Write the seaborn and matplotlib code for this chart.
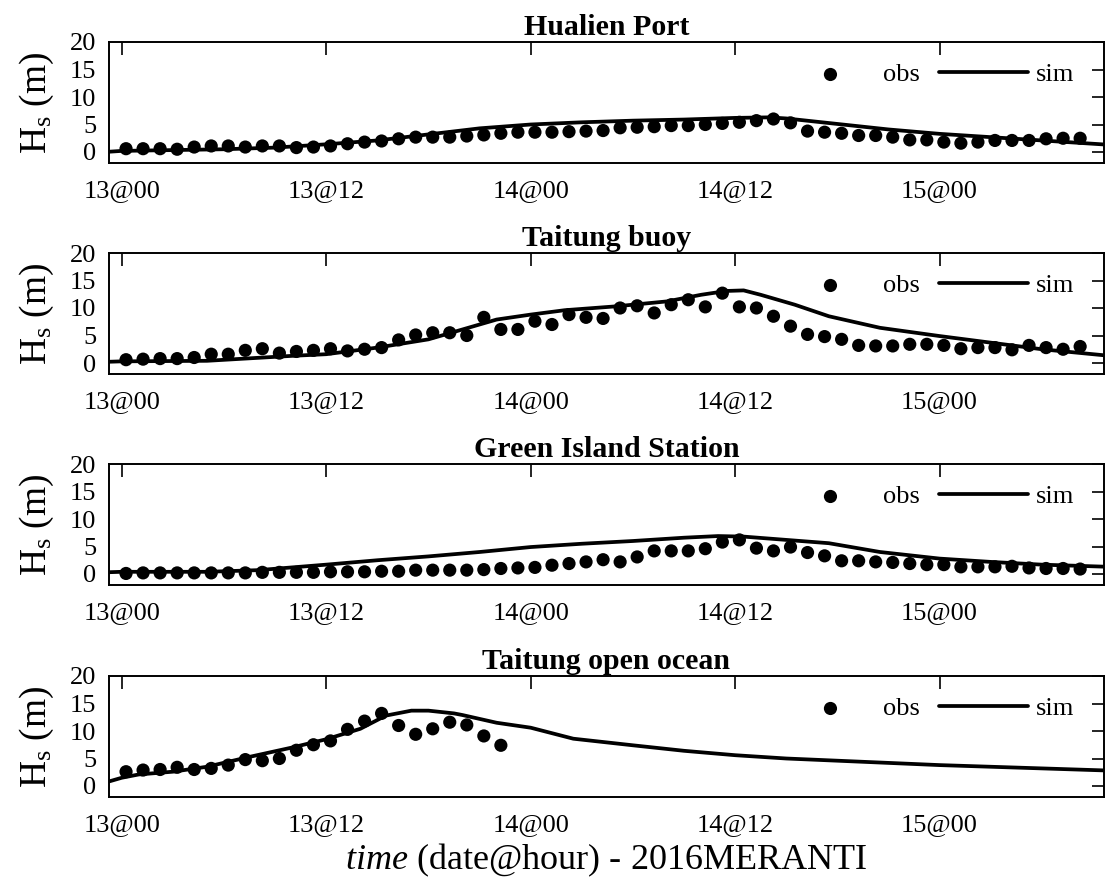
import numpy as np
import pandas as pd
import matplotlib
matplotlib.use("Agg")
import matplotlib.pyplot as plt
import seaborn as sns

# ---------------- data ----------------
stations = ["Hualien Port", "Taitung buoy", "Green Island Station", "Taitung open ocean"]
xtick_hours = [0, 12, 24, 36, 48]
xtick_labels = ["13@00", "13@12", "14@00", "14@12", "15@00"]
ytick_values = [0, 5, 10, 15, 20]

# observations: hourly, first record just after 13@00
obs_start_hour = 0.25
obs_hualien = [0.6, 0.6, 0.6, 0.5, 0.9, 1.1, 1.1, 0.9, 1.1, 1.1, 0.8, 0.9, 1.1, 1.5, 1.8, 2.0,
               2.4, 2.7, 2.7, 2.7, 2.9, 3.1, 3.4, 3.6, 3.6, 3.6, 3.7, 3.8, 3.9, 4.4, 4.5, 4.6,
               4.8, 4.8, 5.0, 5.2, 5.4, 5.7, 6.0, 5.3, 3.8, 3.6, 3.4, 3.0, 3.0, 2.7, 2.2, 2.2,
               1.8, 1.6, 1.8, 2.1, 2.1, 2.1, 2.4, 2.5, 2.5]
obs_buoy = [0.6, 0.7, 0.8, 0.8, 1.0, 1.6, 1.6, 2.3, 2.6, 1.8, 2.1, 2.3, 2.6, 2.2, 2.5, 2.8,
            4.2, 5.1, 5.5, 5.5, 5.0, 8.3, 6.1, 6.1, 7.6, 7.0, 8.8, 8.3, 8.1, 10.0, 10.4, 9.1,
            10.6, 11.5, 10.2, 12.7, 10.2, 10.0, 8.5, 6.7, 5.2, 4.8, 4.3, 3.2, 3.1, 3.1, 3.4, 3.4,
            3.2, 2.6, 2.8, 2.8, 2.4, 3.2, 2.8, 2.5, 3.0]
obs_green = [0.1, 0.2, 0.2, 0.2, 0.2, 0.2, 0.2, 0.2, 0.3, 0.3, 0.3, 0.3, 0.4, 0.4, 0.4, 0.5,
             0.5, 0.7, 0.7, 0.7, 0.7, 0.8, 1.0, 1.1, 1.2, 1.6, 1.9, 2.2, 2.6, 2.2, 3.1, 4.2,
             4.2, 4.2, 4.6, 5.8, 6.2, 4.7, 4.2, 4.9, 3.9, 3.3, 2.4, 2.4, 2.2, 2.1, 1.9, 1.7,
             1.7, 1.3, 1.3, 1.3, 1.4, 1.1, 1.0, 1.0, 0.9]
obs_ocean = [2.6, 2.9, 3.0, 3.4, 3.0, 3.2, 3.8, 4.8, 4.6, 5.0, 6.5, 7.5, 8.2, 10.3, 11.8, 13.2,
             11.0, 9.4, 10.4, 11.6, 11.1, 9.1, 7.4]

# simulations: (hour, Hs)
sim_hualien_t = [-1, 0, 3, 6, 9, 12, 15, 18, 21, 24, 27, 30, 33, 36, 38, 39, 42, 45, 48, 51, 54, 58]
sim_hualien_v = [0.0, 0.2, 0.35, 0.5, 0.8, 1.4, 2.1, 3.2, 4.3, 5.0, 5.4, 5.7, 5.9, 6.2, 6.3, 6.1,
                 5.1, 4.1, 3.3, 2.7, 2.1, 1.3]
sim_buoy_t = [-1, 0, 5, 10, 12, 15, 18, 20, 22, 24, 26, 29, 32, 34, 35.5, 36.5, 37.5, 39.5, 41.5,
              44.5, 48, 51, 54, 58]
sim_buoy_v = [0.2, 0.3, 0.4, 1.3, 1.6, 2.8, 4.3, 6.1, 7.9, 8.8, 9.6, 10.3, 11.2, 12.4, 13.1, 13.2,
              12.4, 10.6, 8.5, 6.4, 4.9, 3.7, 2.5, 1.3]
sim_green_t = [-1, 0, 5, 8, 12, 15, 18, 21, 24, 27, 30, 33, 35, 36.5, 39, 41.5, 44.5, 48, 51, 54, 58]
sim_green_v = [0.3, 0.4, 0.4, 0.7, 1.7, 2.5, 3.2, 4.0, 4.9, 5.5, 6.0, 6.6, 6.9, 6.8, 6.2, 5.6,
               4.0, 2.8, 2.2, 1.7, 1.3]
sim_ocean_t = [-1, 0, 1, 3, 5, 7.5, 10, 12, 14, 15.5, 17, 18, 19.5, 20, 22, 24, 26.5, 30, 33, 36,
               39, 43.5, 48, 52, 58]
sim_ocean_v = [0.6, 1.5, 2.1, 2.6, 3.5, 5.3, 7.0, 8.5, 10.4, 12.8, 13.7, 13.7, 13.2, 12.9, 11.5,
               10.6, 8.6, 7.4, 6.4, 5.6, 5.0, 4.4, 3.8, 3.4, 2.8]

obs_all = [obs_hualien, obs_buoy, obs_green, obs_ocean]
sim_all = [(sim_hualien_t, sim_hualien_v), (sim_buoy_t, sim_buoy_v),
           (sim_green_t, sim_green_v), (sim_ocean_t, sim_ocean_v)]

# ---------------- style ----------------
sns.set_style("white")
plt.rcParams["font.family"] = ["Liberation Serif", "DejaVu Serif"]
plt.rcParams["mathtext.fontset"] = "custom"
plt.rcParams["mathtext.rm"] = "Liberation Serif"
plt.rcParams["mathtext.it"] = "Liberation Serif:italic"
plt.rcParams["mathtext.bf"] = "Liberation Serif:bold"
for k in ["text.color", "axes.labelcolor", "xtick.color", "ytick.color", "axes.edgecolor"]:
    plt.rcParams[k] = "black"

W, H = 1105, 890
fig = plt.figure(figsize=(W / 100, H / 100), dpi=100)

left_px, right_px = 109, 1104
tops_px = [42, 253, 464, 676]
h_px = 121

for i, name in enumerate(stations):
    top = tops_px[i]
    ax = fig.add_axes([left_px / W, 1 - (top + h_px) / H, (right_px - left_px) / W, h_px / H])
    obs = obs_all[i]
    df_obs = pd.DataFrame({"t": obs_start_hour + np.arange(len(obs)), "hs": obs})
    st, sv = sim_all[i]
    df_sim = pd.DataFrame({"t": st, "hs": sv})

    sns.lineplot(data=df_sim, x="t", y="hs", ax=ax, color="black", linewidth=2.7,
                 label="sim", sort=False, zorder=2)
    sns.scatterplot(data=df_obs, x="t", y="hs", ax=ax, color="black", s=90,
                    edgecolor="none", linewidth=0, label="obs", zorder=3)

    ax.set_xlim(-0.75, 57.65)
    ax.set_ylim(-2, 20)
    ax.set_xticks(xtick_hours)
    ax.set_xticklabels(xtick_labels)
    ax.set_yticks(ytick_values)
    ax.tick_params(axis="both", direction="in", length=9, width=1.2, top=True, right=True,
                   labelsize=19, colors="black")
    ax.tick_params(axis="x", pad=12)
    ax.tick_params(axis="y", pad=9)
    for sp in ax.spines.values():
        sp.set_visible(True)
        sp.set_color("black")
        sp.set_linewidth(1.4)
    ax.set_title(name, fontsize=21.5, fontweight="bold", pad=5, color="black")
    ax.set_ylabel(r"$\mathrm{H_s}$ (m)", fontsize=27, labelpad=10, color="black")
    if i == 3:
        ax.set_xlabel(r"$\mathit{time}$ (date@hour) - 2016MERANTI", fontsize=26,
                      labelpad=4, color="black")
    else:
        ax.set_xlabel("")

    handles, labels = ax.get_legend_handles_labels()
    order = [labels.index("obs"), labels.index("sim")]
    ax.legend([handles[j] for j in order], [labels[j] for j in order], ncol=2,
              frameon=False, loc="center left", bbox_to_anchor=(0.68, 0.73),
              handlelength=3.4, handletextpad=0.3, columnspacing=0.7,
              borderpad=0, borderaxespad=0, fontsize=19, markerscale=1.0)

fig.savefig("out.png", dpi=100)
